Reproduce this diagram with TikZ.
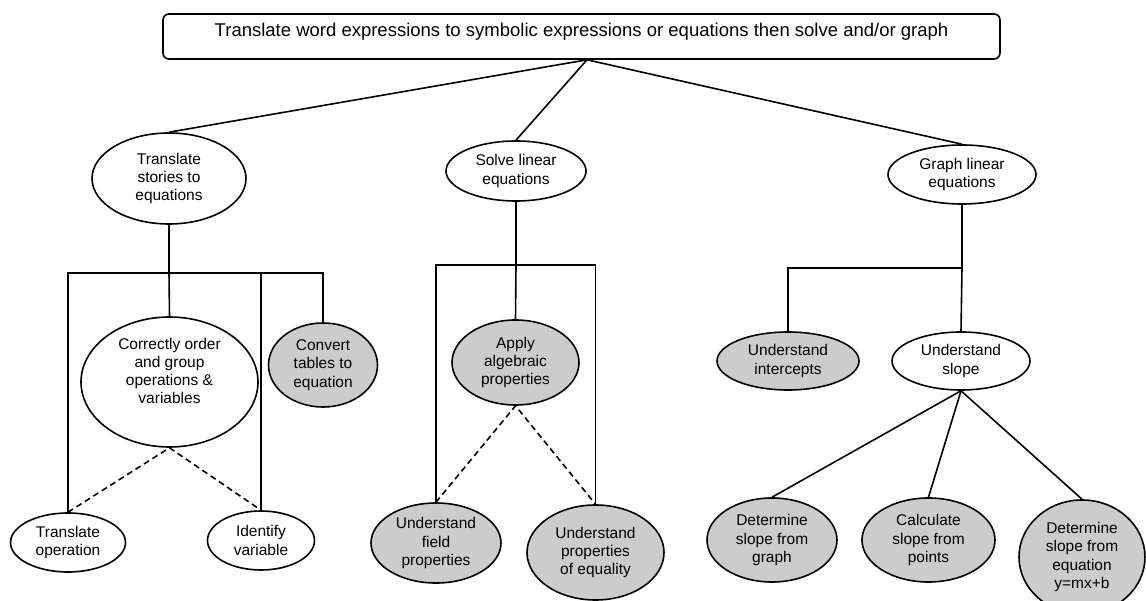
\documentclass[tikz,border=0pt]{standalone}
\usepackage{fontspec}
\setmainfont{Liberation Sans}
\usetikzlibrary{shapes.geometric}
\definecolor{fillgray}{RGB}{204,204,204}
\begin{document}
\begin{tikzpicture}[x=1pt,y=-1pt, line width=1.6pt,
  every node/.style={font=\fontsize{15.5}{18.3}\selectfont, align=center, inner sep=0pt},
  ell/.style={ellipse, draw, fill=white},
  gell/.style={ellipse, draw, fill=fillgray},
  topbox/.style={draw, rounded corners=6pt, minimum width=837pt, minimum height=45pt, text height=12pt, text depth=12pt, font=\fontsize{18.5}{20}\selectfont},
  dashline/.style={dash pattern=on 6pt off 4pt}]
\useasboundingbox (0,0) rectangle (1146,601);
\fill[white] (0,0) rectangle (1146,601);
% nodes
\node[topbox] (top) at (581.5,36.5) {Translate word expressions to symbolic expressions or equations then solve and/or graph};
\node[ell, minimum width=154pt, minimum height=91pt] (tse) at (169,178.5) {Translate\\stories to\\equations};
\node[ell, minimum width=140pt, minimum height=60pt] (sle) at (516,171) {Solve linear\\equations};
\node[ell, minimum width=148pt, minimum height=59pt] (gle) at (962,174.5) {Graph linear\\equations};
\node[ell, minimum width=177pt, minimum height=130pt] (cor) at (169.5,382) {Correctly order\\and group\\operations \&\\variables\\[4pt]};
\node[gell, minimum width=109pt, minimum height=84pt] (cvt) at (323,365) {Convert\\tables to\\equation};
\node[ell, minimum width=115pt, minimum height=59pt] (tro) at (68,542.5) {Translate\\operation};
\node[ell, minimum width=107pt, minimum height=59pt] (idv) at (261,540.5) {Identify\\variable};
\node[gell, minimum width=127pt, minimum height=85pt] (app) at (515.5,362.5) {Apply\\algebraic\\properties};
\node[gell, minimum width=130pt, minimum height=80pt] (fld) at (436,543) {Understand\\field\\properties};
\node[gell, minimum width=137pt, minimum height=95pt] (eqp) at (595.5,552.5) {Understand\\properties\\of equality};
\node[gell, minimum width=142pt, minimum height=58pt] (uin) at (788,361) {Understand\\intercepts};
\node[ell, minimum width=138pt, minimum height=58pt] (usl) at (961,361) {Understand\\slope};
\node[gell, minimum width=130pt, minimum height=84pt] (dsg) at (772,540) {Determine\\slope from\\graph};
\node[gell, minimum width=133pt, minimum height=84pt] (csp) at (928.5,540) {Calculate\\slope from\\points};
\node[gell, minimum width=126pt, minimum height=114pt] (dse) at (1082,557) {Determine\\slope from\\equation\\y=mx+b};
% junction points
\coordinate (apex) at ([xshift=5.5pt]top.south);
\coordinate (b1) at (169,273);
\coordinate (b2) at (516,265);
\coordinate (b3) at (962,268);
% top level
\draw (apex) -- (tse.north);
\draw (apex) -- (sle.north);
\draw (apex) -- (gle.north);
% left tree
\draw (tse.south) -- (b1) -- (cor.north);
\draw (tro.north) |- (b1) -| (cvt.north);
\draw (idv.north) -- (idv.north |- b1);
\draw[dashline] (tro.north) -- (cor.south) -- (idv.north);
% middle tree
\draw (sle.south) -- (b2) -- (app.north);
\draw (fld.north) |- (b2) -| (eqp.north);
\draw[dashline] (fld.north) -- (app.south) -- (eqp.north);
% right tree
\draw (gle.south) -- (b3) -- (usl.north);
\draw (b3) -| (uin.north);
\draw (usl.south) -- (dsg.north);
\draw (usl.south) -- (csp.north);
\draw (usl.south) -- (dse.north);
\end{tikzpicture}
\end{document}
